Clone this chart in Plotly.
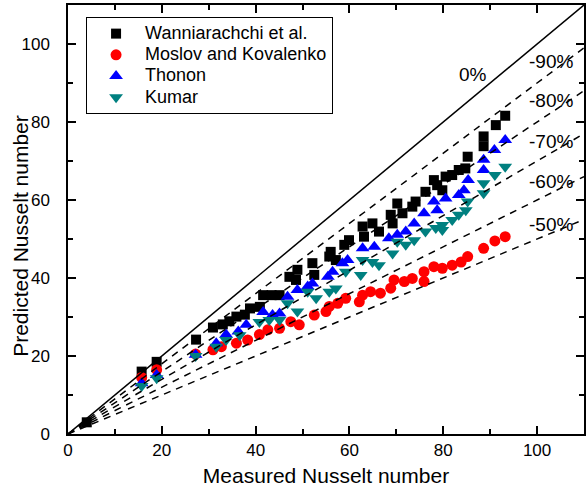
import plotly.graph_objects as go

# Wanniarachchi et al. (black squares)
wan_x = [4.0, 15.7, 18.9, 27.3, 30.9, 33.0, 34.4, 35.9, 37.7, 38.8, 40.9, 41.6, 43.4, 45.1,
         47.2, 48.6, 48.9, 52.1, 52.5, 55.7, 56.0, 57.1, 58.9, 59.9, 62.8, 63.1, 64.9, 66.3,
         68.8, 69.2, 70.2, 71.3, 73.4, 74.1, 76.2, 78.0, 78.7, 79.8, 80.5, 81.9, 83.3, 84.7,
         85.2, 88.6, 88.6, 91.2, 93.2]
wan_y = [3.0, 16.0, 18.5, 24.2, 27.3, 28.1, 28.9, 30.1, 30.6, 32.2, 32.6, 35.6, 35.6, 35.6,
         40.3, 39.5, 42.1, 43.8, 40.8, 45.5, 46.7, 44.6, 48.5, 49.7, 53.2, 50.6, 54.0, 51.9,
         56.2, 54.0, 59.1, 56.6, 58.3, 59.6, 62.1, 65.1, 63.8, 62.5, 66.0, 66.4, 67.7, 68.1,
         71.1, 73.8, 76.3, 79.2, 81.6]

# Moslov and Kovalenko (red circles)
mos_x = [15.7, 18.9, 27.2, 30.9, 32.7, 35.9, 38.3, 40.8, 42.6, 45.1, 47.5, 49.3, 52.5, 55.0,
         55.7, 57.5, 59.2, 62.1, 62.8, 64.5, 66.6, 68.8, 69.5, 71.7, 73.4, 75.9, 75.9, 78.0,
         79.8, 81.9, 83.8, 85.2, 88.6, 91.0, 93.2]
mos_y = [14.5, 16.5, 20.5, 21.6, 22.4, 23.3, 24.1, 25.5, 26.7, 27.1, 28.8, 28.0, 30.5, 31.4,
         32.7, 33.5, 34.8, 33.9, 35.6, 36.5, 36.1, 37.4, 39.5, 39.1, 39.9, 39.1, 41.6, 42.9,
         42.5, 43.3, 44.1, 45.5, 47.6, 49.5, 50.6]

# Thonon (blue up-triangles)
tho_x = [15.7, 18.9, 27.2, 31.6, 33.7, 36.3, 38.0, 41.6, 43.6, 45.1, 46.8, 48.9, 51.1, 52.1,
         55.4, 56.4, 58.5, 59.6, 62.8, 65.3, 68.4, 70.2, 72.0, 73.8, 75.9, 78.0, 78.7, 80.5,
         83.3, 84.4, 85.3, 88.6, 88.6, 90.9, 93.2]
tho_y = [13.0, 15.1, 20.3, 23.3, 25.5, 26.3, 28.0, 31.3, 30.5, 30.9, 35.2, 36.9, 37.8, 38.6,
         40.3, 41.6, 43.8, 44.6, 47.6, 48.0, 50.2, 51.1, 51.9, 54.0, 56.6, 59.6, 57.4, 60.4,
         61.3, 62.5, 65.1, 67.7, 70.3, 72.8, 75.4]

# Kumar (teal down-triangles)
kum_x = [15.7, 18.9, 27.2, 31.6, 33.7, 36.6, 40.8, 42.9, 45.1, 46.8, 48.9, 51.1, 52.9, 55.7,
         57.1, 59.2, 62.4, 62.8, 64.9, 66.3, 69.2, 70.2, 72.0, 73.8, 76.2, 78.4, 79.8, 79.8,
         81.9, 83.3, 84.8, 85.2, 88.6, 88.6, 91.0, 93.2]
kum_y = [12.3, 14.3, 20.0, 22.4, 24.1, 25.3, 28.7, 29.2, 29.2, 33.5, 31.4, 36.5, 34.8, 36.5,
         37.3, 41.6, 40.8, 44.6, 44.1, 43.3, 46.3, 49.3, 48.5, 49.7, 51.9, 52.8, 52.3, 53.6,
         54.9, 56.2, 57.4, 59.6, 61.7, 64.3, 66.4, 68.5]

# Deviation lines
dev_slopes = [0.9, 0.8, 0.7, 0.6, 0.5]
dev_labels = ["-90%", "-80%", "-70%", "-60%", "-50%"]
dev_label_x = [102.9, 102.9, 103.0, 103.0, 103.0]
dev_label_y = [95.4, 85.6, 74.9, 64.7, 53.6]
line_x = [0, 110]

FONT = "Arial, Liberation Sans, sans-serif"

fig = go.Figure()

series = [
    ("Wanniarachchi et al.", wan_x, wan_y, "square", "#000000", 10),
    ("Moslov and Kovalenko", mos_x, mos_y, "circle", "#ff0000", 11),
    ("Thonon", tho_x, tho_y, "triangle-up", "#0000ff", 12),
    ("Kumar", kum_x, kum_y, "triangle-down", "#008080", 12),
]
for name, xs, ys, sym, col, sz in series:
    fig.add_trace(go.Scatter(x=xs, y=ys, mode="markers",
                             name='<span style="font-size:18px">' + name + '</span>',
                             marker=dict(symbol=sym, color=col, size=sz, line=dict(width=0))))

fig.add_trace(go.Scatter(x=line_x, y=line_x, mode="lines", showlegend=False,
                         line=dict(color="black", width=1.5), hoverinfo="skip"))
for s in dev_slopes:
    fig.add_trace(go.Scatter(x=line_x, y=[v * s for v in line_x], mode="lines", showlegend=False,
                             line=dict(color="black", width=1.5, dash="7px,6px"), hoverinfo="skip"))

fig.add_annotation(x=86.4, y=92.3, text="0%", showarrow=False,
                   font=dict(family=FONT, size=19, color="black"))
for t, lx, ly in zip(dev_labels, dev_label_x, dev_label_y):
    fig.add_annotation(x=lx, y=ly, text=t, showarrow=False,
                       font=dict(family=FONT, size=19, color="black"))

# y-axis title placed as rotated text left of the tick labels
fig.add_annotation(xref="paper", yref="paper", x=-0.091, y=0.462, text="Predicted Nusselt number",
                   textangle=-90, showarrow=False, xanchor="center", yanchor="middle",
                   font=dict(family=FONT, size=21, color="black"))

axis_common = dict(
    range=[0, 110], dtick=20, tick0=0, showgrid=False, zeroline=False,
    showline=True, linecolor="black", linewidth=1.5, mirror="allticks",
    ticks="inside", ticklen=8, tickwidth=1.5, tickcolor="black",
    tickfont=dict(family=FONT, size=17, color="black"),
    minor=dict(dtick=10, ticks="inside", ticklen=5, tickwidth=1.5, tickcolor="black", showgrid=False),
)

fig.update_layout(
    width=586, height=491,
    margin=dict(l=68, r=0, t=5, b=57),
    paper_bgcolor="white", plot_bgcolor="white",
    font=dict(family=FONT, color="black"),
    xaxis=dict(**axis_common, title=dict(text="Measured Nusselt number",
                                         font=dict(family=FONT, size=21), standoff=9)),
    yaxis=dict(**axis_common, ticklabelstandoff=13),
    legend=dict(x=0.035, y=0.972, xanchor="left", yanchor="top",
                bordercolor="black", borderwidth=1, bgcolor="white",
                font=dict(family=FONT, size=14, color="black"),
                itemwidth=48, tracegroupgap=0),
    showlegend=True,
)

fig.write_html("out.html", config={"displayModeBar": False},
               post_script="document.body.style.margin='0px';")
